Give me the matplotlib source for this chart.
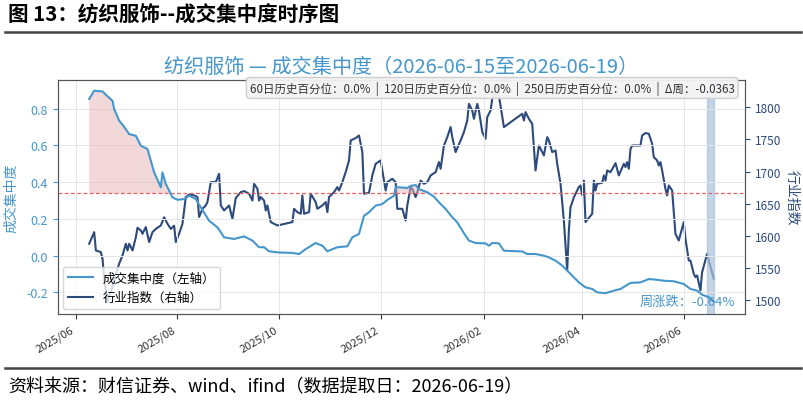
import matplotlib
matplotlib.use("Agg")
import matplotlib.pyplot as plt
import matplotlib.dates as mdates
import pandas as pd
import numpy as np

plt.rcParams['font.family'] = ['Noto Sans CJK SC', 'DejaVu Sans']
plt.rcParams['axes.unicode_minus'] = False

# ---------------- data ----------------
conc_dates = ["2025-06-09","2025-06-12","2025-06-17","2025-06-19","2025-06-23","2025-06-24","2025-06-27","2025-06-30",
              "2025-07-03","2025-07-07","2025-07-10","2025-07-14","2025-07-16","2025-07-18","2025-07-22","2025-07-23",
              "2025-07-25","2025-07-29","2025-08-01","2025-08-05","2025-08-08","2025-08-12","2025-08-15","2025-08-20",
              "2025-08-25","2025-08-29","2025-09-04","2025-09-10","2025-09-15","2025-09-19","2025-09-22","2025-09-25",
              "2025-09-30","2025-10-09","2025-10-13","2025-10-17","2025-10-23","2025-10-27","2025-10-30","2025-11-05",
              "2025-11-11","2025-11-14","2025-11-18","2025-11-21","2025-11-24","2025-11-28","2025-12-02","2025-12-05",
              "2025-12-09","2025-12-10","2025-12-12","2025-12-17","2025-12-19","2025-12-22","2025-12-24","2025-12-29",
              "2026-01-02","2026-01-05","2026-01-09","2026-01-13","2026-01-16","2026-01-20","2026-01-23","2026-01-27",
              "2026-02-02","2026-02-04","2026-02-06","2026-02-10","2026-02-13","2026-02-24","2026-02-27","2026-03-04",
              "2026-03-09","2026-03-12","2026-03-16","2026-03-20","2026-03-24","2026-03-30","2026-04-03","2026-04-07",
              "2026-04-10","2026-04-15","2026-04-20","2026-04-24","2026-04-30","2026-05-06","2026-05-11","2026-05-15",
              "2026-05-20","2026-05-26","2026-06-01","2026-06-05","2026-06-09","2026-06-12","2026-06-16","2026-06-19"]
conc_values = [0.852,0.897,0.893,0.875,0.842,0.797,0.734,0.700,
               0.661,0.652,0.598,0.580,0.516,0.453,0.372,0.453,
               0.390,0.317,0.304,0.308,0.326,0.308,0.263,0.190,
               0.154,0.100,0.091,0.105,0.082,0.046,0.046,0.024,
               0.018,0.015,0.009,0.036,0.069,0.054,0.024,0.046,
               0.051,0.100,0.118,0.217,0.236,0.272,0.281,0.303,
               0.326,0.372,0.372,0.368,0.380,0.384,0.362,0.345,
               0.321,0.290,0.254,0.209,0.181,0.122,0.082,0.069,
               0.067,0.054,0.069,0.067,0.027,0.023,0.009,0.009,
               0.000,-0.009,-0.027,-0.054,-0.090,-0.145,-0.172,-0.181,
               -0.199,-0.204,-0.190,-0.181,-0.148,-0.145,-0.127,-0.130,
               -0.136,-0.139,-0.154,-0.181,-0.190,-0.212,-0.226,-0.248]

idx_dates = ["2025-06-09","2025-06-12","2025-06-13","2025-06-16","2025-06-17","2025-06-18","2025-06-20","2025-06-21",
             "2025-06-23","2025-06-25","2025-06-27","2025-06-29","2025-07-01","2025-07-02","2025-07-03","2025-07-05",
             "2025-07-07","2025-07-08","2025-07-10","2025-07-11","2025-07-13","2025-07-15","2025-07-17","2025-07-19",
             "2025-07-22","2025-07-24","2025-07-26","2025-07-28","2025-07-30","2025-07-31","2025-08-02","2025-08-04",
             "2025-08-06","2025-08-08","2025-08-11","2025-08-13","2025-08-14","2025-08-16","2025-08-18","2025-08-19",
             "2025-08-21","2025-08-24","2025-08-26","2025-08-27","2025-08-29","2025-09-01","2025-09-03","2025-09-05",
             "2025-09-08","2025-09-10","2025-09-13","2025-09-15","2025-09-16","2025-09-18","2025-09-19","2025-09-20",
             "2025-09-22","2025-09-23","2025-09-24","2025-09-26","2025-09-28","2025-09-30","2025-10-09","2025-10-10",
             "2025-10-12","2025-10-14","2025-10-15","2025-10-16","2025-10-19","2025-10-20","2025-10-23","2025-10-24",
             "2025-10-27","2025-10-29","2025-10-30","2025-10-31","2025-11-03","2025-11-05","2025-11-06","2025-11-08",
             "2025-11-10","2025-11-12","2025-11-13","2025-11-16","2025-11-18","2025-11-20","2025-11-21","2025-11-24",
             "2025-11-26","2025-11-28","2025-12-01","2025-12-02","2025-12-04","2025-12-05","2025-12-08","2025-12-10",
             "2025-12-11","2025-12-14","2025-12-16","2025-12-17","2025-12-19","2025-12-20","2025-12-22","2025-12-23",
             "2025-12-25","2025-12-27","2025-12-29","2025-12-31","2026-01-03","2026-01-05","2026-01-06","2026-01-08",
             "2026-01-10","2026-01-12","2026-01-13","2026-01-15","2026-01-18","2026-01-20","2026-01-22","2026-01-23",
             "2026-01-25","2026-01-26","2026-01-28","2026-01-29","2026-01-31","2026-02-02","2026-02-03","2026-02-05",
             "2026-02-06","2026-02-08","2026-02-10","2026-02-13","2026-02-24","2026-02-25","2026-02-26","2026-02-28",
             "2026-03-02","2026-03-04","2026-03-06","2026-03-08","2026-03-09","2026-03-11","2026-03-12","2026-03-14",
             "2026-03-16","2026-03-17","2026-03-19","2026-03-21","2026-03-23","2026-03-24","2026-03-25","2026-03-26",
             "2026-03-27","2026-03-30","2026-03-31","2026-04-01","2026-04-02","2026-04-03","2026-04-07","2026-04-08",
             "2026-04-09","2026-04-10","2026-04-13","2026-04-14","2026-04-15","2026-04-16","2026-04-18","2026-04-21",
             "2026-04-23","2026-04-26","2026-04-27","2026-04-28","2026-04-29","2026-04-30","2026-05-01","2026-05-06",
             "2026-05-07","2026-05-09","2026-05-11","2026-05-13","2026-05-14","2026-05-16","2026-05-17","2026-05-18",
             "2026-05-19","2026-05-21","2026-05-22","2026-05-23","2026-05-25","2026-05-27","2026-05-29","2026-06-01",
             "2026-06-02","2026-06-04","2026-06-05","2026-06-07","2026-06-08","2026-06-09","2026-06-11","2026-06-12",
             "2026-06-15","2026-06-16","2026-06-19"]
idx_values = [1588,1606,1577.6,1575,1564.7,1533.7,1497.5,1507.8,
              1520.8,1541,1557,1569.8,1588,1577.6,1588,1577.6,
              1598,1612.8,1608.6,1603.5,1613.8,1590.6,1606,1611,
              1616.3,1629,1619,1611,1616,1590.6,1603.5,1619,
              1660.4,1664.4,1663,1660.4,1629.4,1642.2,1647.4,1652.6,
              1683.6,1683.6,1696.5,1647.4,1639.6,1647.4,1626.7,1659,
              1668,1669.7,1665.5,1655,1681,1673.3,1655,1660.4,
              1655,1639.6,1647.4,1621.6,1619,1616.3,1621.6,1642.2,
              1637,1634.5,1663,1634.5,1637,1665.5,1652.6,1642.2,
              1647.4,1652.6,1637,1660.4,1668,1675.9,1670.6,1683.6,
              1699.2,1717.2,1748.2,1751.9,1755.9,1730.2,1665.5,1667,
              1693.9,1712,1717.2,1701.6,1670.6,1683.6,1688.8,1683.6,
              1642.2,1642.2,1624,1647.4,1676,1673,1660.4,1668,
              1686,1681,1683.6,1694,1699,1714.7,1704.3,1740.4,
              1753.4,1769,1753.4,1730.2,1748.2,1761.2,1779.2,1805,
              1794.7,1781.8,1805,1794.7,1761.2,1750.8,1784.5,1794.7,
              1812.9,1825.7,1818,1769,1789.6,1779.2,1792.2,1781.8,
              1774,1701.6,1740.4,1730.2,1725,1753.4,1748.2,1730.2,
              1732.7,1712,1681,1624,1546.5,1608,1645,1652,
              1660,1676,1678.4,1663,1686,1621.6,1634.5,1686,
              1670.6,1681,1682.6,1694,1686,1701.6,1699,1713,
              1694,1712,1707,1714.7,1704.3,1735,1740.4,1740.4,
              1756,1759.7,1758.6,1743,1722.4,1717.2,1709.4,1714.7,
              1701.6,1673,1663,1678.4,1670.6,1603.5,1593,1621.6,
              1595.7,1562,1562,1541.4,1536.3,1538.8,1515.5,1543.6,
              1572.4,1562,1533.7]

threshold = 0.339
week_start, week_end = "2026-06-15", "2026-06-19"
left_ticks = [-0.2, 0.0, 0.2, 0.4, 0.6, 0.8]
right_ticks = [1500, 1550, 1600, 1650, 1700, 1750, 1800]
info_text = "60日历史百分位：0.0%  |  120日历史百分位：0.0%  |  250日历史百分位：0.0%  |  Δ周：-0.0363"
week_chg_text = "周涨跌：-0.64%"

# ---------------- plot ----------------
c_conc = '#4596cc'
c_idx = '#2c4a7c'

fig = plt.figure(figsize=(8.04, 4.02), dpi=100)
fig.patch.set_facecolor('white')

fig.text(0.010, 0.963, "图 13：纺织服饰--成交集中度时序图", fontsize=14.8, fontweight='bold',
         ha='left', va='center', color='black')
fig.add_artist(plt.Line2D([0.006, 0.996], [0.918, 0.918], color='#444444', lw=1.8))
fig.add_artist(plt.Line2D([0.006, 0.996], [0.082, 0.082], color='#444444', lw=1.8))
fig.text(0.010, 0.037, "资料来源：财信证券、wind、ifind（数据提取日：2026-06-19）", fontsize=13,
         style='italic', ha='left', va='center', color='black')

ax = fig.add_axes([0.0721, 0.2164, 0.8545, 0.5821])
ax2 = ax.twinx()

cd = pd.to_datetime(conc_dates)
cv = np.array(conc_values)
idd = pd.to_datetime(idx_dates)
iv = np.array(idx_values)

ax.axvspan(pd.Timestamp(week_start), pd.Timestamp(week_end), color='#a9c2dc', alpha=0.7, zorder=0)
ax.fill_between(cd, cv, threshold, where=cv > threshold, interpolate=True,
                color='#e7b3b3', alpha=0.5, lw=0, zorder=1)
ax.axhline(threshold, color='#e8605f', ls=(0, (3, 2)), lw=0.9, zorder=2)
l1, = ax.plot(cd, cv, color=c_conc, lw=1.5, zorder=3, label='成交集中度（左轴）')
l2, = ax2.plot(idd, iv, color=c_idx, lw=1.5, zorder=3, label='行业指数（右轴）')

ax.set_ylim(-0.317, 0.955)
ax2.set_ylim(1479, 1842)
ax.set_yticks(left_ticks)
ax.set_yticklabels([f"{t:.1f}" for t in left_ticks])
ax2.set_yticks(right_ticks)

ax.xaxis.set_major_locator(mdates.MonthLocator(bymonth=[2, 4, 6, 8, 10, 12]))
ax.xaxis.set_major_formatter(mdates.DateFormatter('%Y/%m'))
for lab in ax.get_xticklabels():
    lab.set_rotation(30)
    lab.set_ha('right')
    lab.set_fontsize(8)
    lab.set_color('#333333')

ax.tick_params(axis='y', colors=c_conc, labelsize=9)
ax2.tick_params(axis='y', colors=c_idx, labelsize=8.5)
ax.tick_params(axis='x', labelsize=8, colors='#333333')
ax.set_ylabel('成交集中度', color=c_conc, fontsize=10, labelpad=6)
ax2.set_ylabel('行业指数', color=c_idx, fontsize=10, rotation=270, va='center', ha='center')
ax2.yaxis.set_label_coords(1.068, 0.5)

ax.grid(True, color='#e6e6e6', lw=0.7)
ax.set_axisbelow(True)
for sp in ax.spines.values():
    sp.set_color('#555555')
for sp in ax2.spines.values():
    sp.set_color('#555555')

ax.set_title('纺织服饰 — 成交集中度（2026-06-15至2026-06-19）', color=c_conc, fontsize=14.5, pad=6)

ax.text(0.985, 0.996, info_text, transform=ax.transAxes, ha='right', va='top', fontsize=8.3,
        color='#333333', zorder=10,
        bbox=dict(boxstyle='round,pad=0.3', fc='#f3f3f3', ec='#cccccc', alpha=0.95))
ax.text(0.985, 0.025, week_chg_text, transform=ax.transAxes, ha='right', va='bottom',
        fontsize=9.5, color=c_conc, zorder=10)

leg = ax.legend(handles=[l1, l2], loc='lower left', fontsize=9, frameon=True,
                bbox_to_anchor=(0.0, 0.0), borderaxespad=0.4)
leg.get_frame().set_edgecolor('#cccccc')
leg.set_zorder(20)
ax.set_zorder(ax2.get_zorder() + 1)
ax.patch.set_visible(False)

fig.savefig('out.png', dpi=100)
